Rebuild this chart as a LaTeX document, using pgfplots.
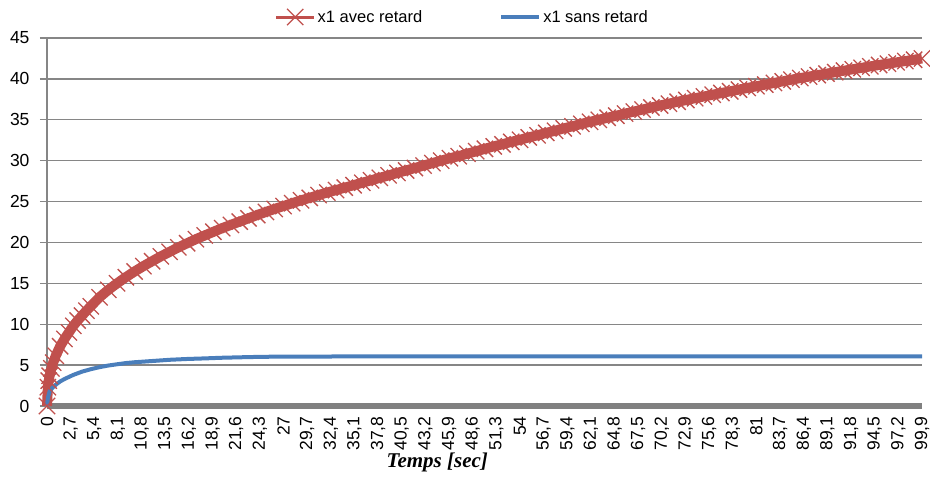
\documentclass[border=0pt]{standalone}
\usepackage{fontspec}
\setmainfont{Liberation Sans}
\newfontfamily\titlefont{Liberation Serif}
\usepackage{pgfplots}
\usepackage{pgfplotstable}
\pgfplotsset{compat=1.18}

\definecolor{xred}{RGB}{192,80,77}
\definecolor{xblue}{RGB}{74,126,187}
\definecolor{gridgray}{RGB}{134,134,134}
\definecolor{bandgray}{RGB}{128,128,128}

% x1 avec retard
\pgfplotstableread{
t v
0 0
0.1 2.3
0.2 3.1
0.3 3.7
0.5 4.6
0.7 5.3
1 6.14
1.5 7.3
2 8.2
2.5 9.0
3 9.8
3.5 10.45
4 11.05
4.5 11.65
5 12.2
6 13.3
7 14.2
8 15.0
9 15.75
10 16.45
11 17.1
12 17.7
13 18.3
14 18.85
15 19.4
16 19.9
17 20.4
18 20.85
19 21.3
20 21.75
21 22.15
22 22.55
23 22.95
24 23.35
25 23.73
26 24.1
27 24.45
28 24.8
29 25.15
30 25.45
31 25.8
32 26.1
33 26.4
34 26.7
35 27.0
36 27.3
37 27.6
38 27.9
39 28.2
40 28.5
41 28.8
42 29.1
43 29.4
44 29.7
45 30.0
46 30.3
47 30.55
48 30.85
49 31.15
50 31.45
51 31.75
52 32.0
53 32.3
54 32.55
55 32.85
56 33.1
57 33.4
58 33.65
59 33.95
60 34.2
61 34.5
62 34.75
63 35.0
64 35.25
65 35.5
66 35.75
67 36.0
68 36.25
69 36.5
70 36.75
71 36.97
72 37.2
73 37.42
74 37.64
75 37.85
76 38.06
77 38.27
78 38.48
79 38.69
80 38.9
81 39.1
82 39.3
83 39.5
84 39.7
85 39.9
86 40.1
87 40.28
88 40.46
89 40.64
90 40.82
91 41.0
92 41.18
93 41.35
94 41.53
95 41.7
96 41.86
97 42.02
98 42.18
99 42.34
99.9 42.5
}\avecretard

% x1 sans retard
\pgfplotstableread{
t v
0 0
0.1 1.0
0.3 1.8
0.6 2.2
1 2.6
1.5 3.0
2 3.3
3 3.8
4 4.2
5 4.5
6 4.75
7 4.95
8 5.1
9 5.25
10 5.35
12 5.5
14 5.65
16 5.75
18 5.82
20 5.9
23 5.98
25 6.02
30 6.05
40 6.06
60 6.07
99.9 6.07
}\sansretard

\begin{document}
\begin{tikzpicture}
\begin{axis}[name=ax,
  width=875pt, height=368pt, scale only axis,
  xmin=0, xmax=99.9, ymin=0, ymax=45,
  clip=false,
  axis x line*=bottom, axis y line*=left,
  axis line style={draw=gridgray, line width=1.3pt, -},
  ymajorgrids, major grid style={draw=gridgray, line width=1.3pt},
  ytick={0,5,...,45},
  xtick={0,2.7,5.4,8.1,10.8,13.5,16.2,18.9,21.6,24.3,27,29.7,32.4,35.1,37.8,40.5,43.2,45.9,48.6,51.3,54,56.7,59.4,62.1,64.8,67.5,70.2,72.9,75.6,78.3,81,83.7,86.4,89.1,91.8,94.5,97.2,99.9},
  tick align=outside, major tick length=7pt,
  xtick style={draw=none},
  ytick style={draw=gridgray, line width=1.3pt},
  /pgf/number format/assume math mode=true,
  /pgf/number format/use comma,
  /pgf/number format/1000 sep={},
  xticklabel style={rotate=90, anchor=east, font=\fontsize{17.5}{20}\selectfont},
  yticklabel style={font=\fontsize{17.5}{20}\selectfont, xshift=-7pt},
  legend columns=2,
  legend style={at={(0.26,1.057)}, anchor=west, draw=none, fill=none,
    inner sep=0pt, font=\fontsize{16.5}{19}\selectfont,
    /tikz/every even column/.append style={column sep=75pt}},
  legend cell align=left,
  legend image code/.code={\draw[mark repeat=2,mark phase=2,#1] plot coordinates {(0pt,0pt) (19pt,0pt) (38pt,0pt)};},
]
\addplot[bandgray, line width=6pt, forget plot] coordinates {(0,0) (99.9,0)};
\addplot[xred, line width=10pt, forget plot] table[x=t, y=v] {\avecretard};
\addplot[xred, line width=3pt, mark=x, mark size=11.5pt, mark options={line width=1.3pt}] table[x=t, y=v] {\avecretard};
\addlegendentry{x1 avec retard}
\addplot[xblue, line width=4pt] table[x=t, y=v] {\sansretard};
\addlegendentry{x1 sans retard}
\node[font=\titlefont\bfseries\itshape\fontsize{21}{24}\selectfont] at (rel axis cs:0.446,0) [yshift=-56pt] {Temps [sec]};
\end{axis}
\pgfresetboundingbox
\path[use as bounding box] ([xshift=-47pt,yshift=-82pt]ax.south west) rectangle ([xshift=8pt,yshift=38pt]ax.north east);
\end{tikzpicture}
\end{document}
